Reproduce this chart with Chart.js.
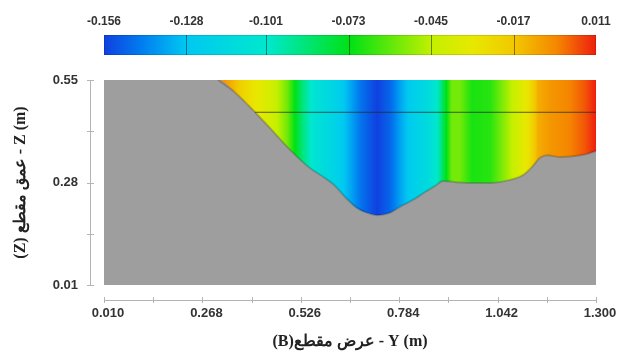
<!DOCTYPE html>
<html>
<head>
<meta charset="utf-8">
<script src="https://cdn.jsdelivr.net/npm/chart.js@4.4.1/dist/chart.umd.min.js"></script>
<style>
  html, body { margin: 0; padding: 0; background: #ffffff; }
  #wrap { width: 626px; height: 353px; }
</style>
</head>
<body>
<div id="wrap"><canvas id="section" width="626" height="353"></canvas></div>
<script>
// Cross-section stations (m) and the field value at each station
const stationX = [0.309, 0.346, 0.380, 0.419, 0.458, 0.490, 0.511, 0.532, 0.563, 0.616,
                  0.655, 0.686, 0.726, 0.760, 0.786, 0.818, 0.857, 0.883, 0.901, 0.922,
                  0.943, 0.975, 1.022, 1.061, 1.101, 1.127, 1.148, 1.179, 1.232, 1.271, 1.300];
const fieldValues = [-0.001, -0.012, -0.024, -0.032, -0.042, -0.056, -0.073, -0.089, -0.106, -0.119,
                     -0.134, -0.146, -0.156, -0.148, -0.136, -0.123, -0.113, -0.101, -0.081, -0.056,
                     -0.056, -0.069, -0.067, -0.052, -0.036, -0.026, -0.011, -0.006, -0.002, 0.004, 0.011];

// Bed profile of the channel section
const bedX = [0.010, 0.309, 0.353, 0.393, 0.445, 0.498, 0.550, 0.589, 0.616, 0.642,
              0.673, 0.700, 0.726, 0.760, 0.786, 0.820, 0.852, 0.878, 0.899, 0.930,
              0.970, 1.022, 1.075, 1.109, 1.132, 1.153, 1.172, 1.206, 1.245, 1.276, 1.300];
const bedZ = [0.550, 0.550, 0.518, 0.479, 0.424, 0.366, 0.318, 0.292, 0.271, 0.242,
              0.213, 0.200, 0.194, 0.200, 0.216, 0.234, 0.255, 0.271, 0.284, 0.281,
              0.279, 0.279, 0.287, 0.300, 0.321, 0.345, 0.352, 0.347, 0.350, 0.355, 0.363];

// Horizontal line across the flow
const levelX = [0.406, 1.300];
const levelZ = [0.465, 0.465];

// Tick labels and axis marks
const xTickLabels = [0.010, 0.268, 0.526, 0.784, 1.042, 1.300];
const xAxisMarks = [0.010, 0.139, 0.268, 0.397, 0.526, 0.655, 0.784, 0.913, 1.042, 1.171, 1.300];
const yTickLabels = [0.01, 0.28, 0.55];
const yAxisMarks = [0.01, 0.145, 0.28, 0.415, 0.55];
const colorbarTicks = [-0.156, -0.128, -0.101, -0.073, -0.045, -0.017, 0.011];

const xTitle = '(B)عرض مقطع - Y (m)';
const yTitle = '(Z) عمق مقطع - Z (m)';

// Rainbow colour map used by the field and the colour bar
const RAMP = [
  [0.00, [16, 64, 224]],
  [0.08, [0, 128, 240]],
  [0.167, [0, 200, 242]],
  [0.333, [0, 232, 205]],
  [0.50, [0, 225, 20]],
  [0.667, [195, 240, 0]],
  [0.75, [232, 232, 0]],
  [0.833, [242, 200, 0]],
  [0.92, [245, 135, 0]],
  [1.00, [238, 30, 14]]
];
const V_MIN = colorbarTicks[0], V_MAX = colorbarTicks[colorbarTicks.length - 1];

function rampColor(t) {
  t = Math.max(0, Math.min(1, t));
  for (let i = 1; i < RAMP.length; i++) {
    if (t <= RAMP[i][0]) {
      const [t0, c0] = RAMP[i - 1], [t1, c1] = RAMP[i];
      const f = (t - t0) / (t1 - t0);
      const c = c0.map((v, k) => Math.round(v + (c1[k] - v) * f));
      return `rgb(${c[0]},${c[1]},${c[2]})`;
    }
  }
  const c = RAMP[RAMP.length - 1][1];
  return `rgb(${c[0]},${c[1]},${c[2]})`;
}
const valueColor = v => rampColor((v - V_MIN) / (V_MAX - V_MIN));

// Horizontal gradient following the field value along the section
function fieldGradient(chart) {
  const { ctx, chartArea, scales } = chart;
  if (!chartArea) return null;
  const sx = scales.x;
  const w = chartArea.right - chartArea.left;
  const g = ctx.createLinearGradient(chartArea.left, 0, chartArea.right, 0);
  const stop = (xv, v) => {
    const off = (sx.getPixelForValue(xv) - chartArea.left) / w;
    if (off >= 0 && off <= 1) g.addColorStop(off, valueColor(v));
  };
  for (let i = 0; i < stationX.length - 1; i++) {
    const steps = 6;
    for (let s = 0; s < steps; s++) {
      const f = s / steps;
      stop(stationX[i] + (stationX[i + 1] - stationX[i]) * f,
           fieldValues[i] + (fieldValues[i + 1] - fieldValues[i]) * f);
    }
  }
  stop(stationX[stationX.length - 1], fieldValues[fieldValues.length - 1]);
  return g;
}

const tickFont = { family: "'Liberation Sans', Arial, sans-serif", size: 13, weight: 'bold' };
const titleFont = { family: "'Liberation Serif', 'DejaVu Serif', serif", size: 16, weight: 'bold' };
const INK = '#333333';
const AXIS_GREY = '#b4b4b4';

// Keep every scale from reserving extra side room for its labels
const noSidePadding = s => { s.paddingLeft = 0; s.paddingRight = 0; s.paddingTop = 0; s.paddingBottom = 0; };

// Detached axis lines, axis marks and the colour bar
const sectionFrame = {
  id: 'sectionFrame',
  beforeDraw(chart) {
    const c = chart.ctx;
    c.save();
    c.fillStyle = '#ffffff';
    c.fillRect(0, 0, chart.width, chart.height);
    c.restore();
  },
  afterDraw(chart) {
    const c = chart.ctx;
    const { x, y, cb } = chart.scales;
    const area = chart.chartArea;
    c.save();
    // x axis
    const axY = area.bottom + 15;
    c.strokeStyle = AXIS_GREY;
    c.lineWidth = 1;
    c.beginPath();
    c.moveTo(area.left, axY + 0.5);
    c.lineTo(area.right, axY + 0.5);
    xAxisMarks.forEach(v => {
      const px = Math.round(x.getPixelForValue(v)) + 0.5;
      c.moveTo(px, axY - 3);
      c.lineTo(px, axY + 3);
    });
    // y axis
    const axX = area.left - 14;
    c.moveTo(axX + 0.5, area.top);
    c.lineTo(axX + 0.5, area.bottom);
    yAxisMarks.forEach(v => {
      const py = Math.round(y.getPixelForValue(v)) + 0.5;
      c.moveTo(axX - 3, py);
      c.lineTo(axX + 4, py);
    });
    c.stroke();

    // colour bar
    const x0 = cb.getPixelForValue(V_MIN), x1 = cb.getPixelForValue(V_MAX);
    const top = 35, h = 20;
    const g = c.createLinearGradient(x0, 0, x1, 0);
    RAMP.forEach(([t]) => g.addColorStop(t, rampColor(t)));
    c.fillStyle = g;
    c.fillRect(x0, top, x1 - x0, h);
    c.strokeStyle = 'rgba(0,0,0,0.45)';
    c.beginPath();
    colorbarTicks.slice(1, -1).forEach(v => {
      const px = Math.round(cb.getPixelForValue(v)) + 0.5;
      c.moveTo(px, top);
      c.lineTo(px, top + h);
    });
    c.stroke();
    c.strokeStyle = 'rgba(0,0,0,0.12)';
    c.strokeRect(x0 + 0.5, top + 0.5, x1 - x0 - 1, h - 1);
    c.restore();
  }
};

const pts = (xs, zs) => xs.map((v, i) => ({ x: v, y: zs[i] }));

new Chart(document.getElementById('section'), {
  type: 'line',
  data: {
    datasets: [
      {
        label: 'level',
        data: pts(levelX, levelZ),
        xAxisID: 'x', yAxisID: 'y',
        borderColor: 'rgba(35,45,35,0.75)',
        borderWidth: 1,
        pointRadius: 0,
        fill: false,
        order: 1
      },
      {
        label: 'bed edge',
        data: pts(bedX.slice(1), bedZ.slice(1)),
        xAxisID: 'x', yAxisID: 'y',
        borderColor: 'rgba(0,0,0,0.18)',
        borderWidth: 2,
        cubicInterpolationMode: 'monotone',
        pointRadius: 0,
        fill: false,
        order: 2
      },
      {
        label: 'bed',
        data: pts(bedX, bedZ),
        xAxisID: 'x', yAxisID: 'y',
        backgroundColor: '#9e9e9e',
        borderWidth: 0,
        cubicInterpolationMode: 'monotone',
        pointRadius: 0,
        fill: 'start',
        order: 3
      },
      {
        label: 'field',
        data: [{ x: 0.010, y: 0.55 }, { x: 1.300, y: 0.55 }],
        xAxisID: 'x', yAxisID: 'y',
        backgroundColor: c => fieldGradient(c.chart),
        borderWidth: 0,
        pointRadius: 0,
        fill: 'start',
        order: 4
      }
    ]
  },
  options: {
    responsive: false,
    animation: false,
    events: [],
    layout: { padding: { top: 0, right: 30, bottom: 0, left: 0 } },
    plugins: { legend: { display: false }, tooltip: { enabled: false } },
    scales: {
      x: {
        type: 'linear',
        position: 'bottom',
        min: 0.01, max: 1.3,
        afterFit: s => { s.height = 68; noSidePadding(s); },
        afterBuildTicks: s => { s.ticks = xTickLabels.map(v => ({ value: v })); },
        grid: { display: false, drawTicks: false },
        border: { display: false },
        ticks: {
          callback: v => Number(v).toFixed(3),
          font: tickFont, color: INK,
          padding: 21, labelOffset: 4,
          maxRotation: 0, autoSkip: false
        },
        title: { display: true, text: xTitle, font: titleFont, color: '#222', padding: { top: 0, bottom: 2 } }
      },
      y: {
        type: 'linear',
        position: 'left',
        min: 0.01, max: 0.55,
        afterFit: s => { s.width = 104; noSidePadding(s); },
        afterBuildTicks: s => { s.ticks = yTickLabels.map(v => ({ value: v })); },
        grid: { display: false, drawTicks: false },
        border: { display: false },
        ticks: { callback: v => Number(v).toFixed(2), font: tickFont, color: INK, padding: 26 },
        title: { display: true, text: yTitle, font: titleFont, color: '#222', padding: { top: 11, bottom: 0 } }
      },
      cb: {
        type: 'linear',
        axis: 'x',
        position: 'top',
        min: V_MIN, max: V_MAX,
        afterFit: s => { s.height = 80; noSidePadding(s); },
        afterBuildTicks: s => { s.ticks = colorbarTicks.map(v => ({ value: v })); },
        grid: { display: false, drawTicks: false },
        border: { display: false },
        ticks: {
          callback: v => Number(v).toFixed(3),
          font: { family: "'Liberation Sans', Arial, sans-serif", size: 12, weight: 'bold' },
          color: INK, padding: 51, maxRotation: 0, autoSkip: false
        }
      }
    }
  },
  plugins: [sectionFrame]
});
</script>
</body>
</html>
